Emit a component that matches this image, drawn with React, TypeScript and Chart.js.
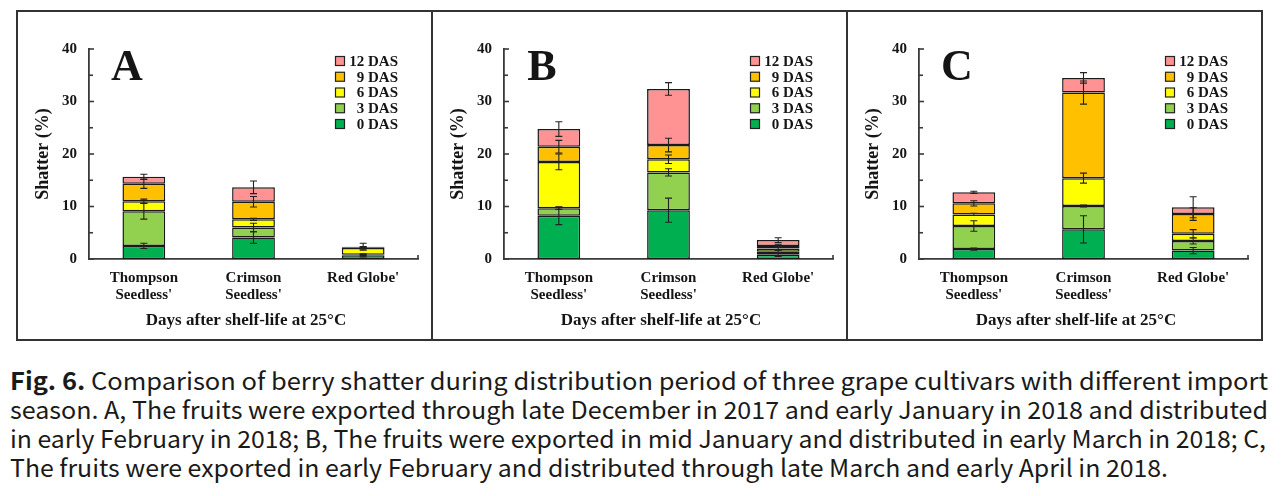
import React, { useEffect, useRef } from "react";
import { Chart, registerables } from "chart.js";

Chart.register(...registerables);

// ---------- data ----------
const cultivars = [["Thompson", "Seedless'"], ["Crimson", "Seedless'"], ["Red Globe'"]];
const seriesNames = ["0 DAS", "3 DAS", "6 DAS", "9 DAS", "12 DAS"];
const seriesColors = ["#00b050", "#92d050", "#ffff00", "#ffc000", "#ff9393"];
const yTickValues = [0, 10, 20, 30, 40];
const yMinorStep = 5;
const yAxisTitle = "Shatter (%)";
const xAxisTitle = "Days after shelf-life at 25\u00B0C";

// Panel A (shatter %, per storage day, per cultivar)
const aDas0 = [2.5, 4.1, 0.7];
const aDas3 = [6.6, 1.9, 0.1];
const aDas6 = [1.9, 1.55, 1.3];
const aDas9 = [3.35, 3.35, 0.15];
const aDas12 = [1.3, 2.75, 0.1];
const aErr0 = [0.5, 1.1, 0.3];
const aErr3 = [1.5, 0.8, 0.1];
const aErr6 = [0.4, 0.2, 0.2];
const aErr9 = [0.9, 1.0, 0.1];
const aErr12 = [0.5, 1.2, 0.65];

// Panel B
const bDas0 = [8.25, 9.3, 0.8];
const bDas3 = [1.4, 7.2, 0.6];
const bDas6 = [8.85, 2.5, 0.6];
const bDas9 = [2.9, 2.7, 0.5];
const bDas12 = [3.35, 10.7, 1.1];
const bErr0 = [1.7, 2.3, 0.3];
const bErr3 = [0.2, 0.7, 0.3];
const bErr6 = [1.5, 0.8, 0.3];
const bErr9 = [1.2, 1.3, 0.3];
const bErr12 = [1.4, 1.2, 0.45];

// Panel C
const cDas0 = [1.9, 5.65, 1.6];
const cDas3 = [4.4, 4.45, 1.85];
const cDas6 = [2.2, 5.3, 1.35];
const cDas9 = [2.1, 16.3, 3.75];
const cDas12 = [2.1, 2.8, 1.3];
const cErr0 = [0.2, 2.6, 0.6];
const cErr3 = [1.0, 0.2, 0.6];
const cErr6 = [0.2, 0.95, 0.8];
const cErr9 = [0.5, 2.2, 1.2];
const cErr12 = [0.2, 1.0, 2.0];

const captionBold = "Fig. 6.";
const captionLine1 = " Comparison of berry shatter during distribution period of three grape cultivars with different import";
const captionLine2 = "season. A, The fruits were exported through late December in 2017 and early January in 2018 and distributed";
const captionLine3 = "in early February in 2018; B, The fruits were exported in mid January and distributed in early March in 2018; C,";
const captionLine4 = "The fruits were exported in early February and distributed through late March and early April in 2018.";
const captionLineWidths = [1258, 1258, 1256, 1158];

// ---------- styling ----------
const SERIF = "'Liberation Serif', 'Times New Roman', serif";
const INK = "#151515";
const AXIS = "#3a3a3a";
const PANEL_W = 415;
const PANEL_H = 330;

function makeDecor(letter: string, errs: number[][]) {
  return {
    id: "decor" + letter,
    afterDatasetsDraw(chart: any) {
      const ctx = chart.ctx;
      const ys = chart.scales.y;
      ctx.save();
      ctx.strokeStyle = "#222";
      ctx.lineWidth = 1.1;
      chart.data.datasets.forEach((ds: any, i: number) => {
        const meta = chart.getDatasetMeta(i);
        meta.data.forEach((bar: any, j: number) => {
          let top = 0;
          for (let k = 0; k <= i; k++) top += chart.data.datasets[k].data[j];
          const e = errs[i][j];
          const x = bar.x;
          const y1 = ys.getPixelForValue(top + e);
          const y2 = ys.getPixelForValue(top - e);
          ctx.beginPath();
          ctx.moveTo(x, y1);
          ctx.lineTo(x, y2);
          ctx.moveTo(x - 3.5, y1);
          ctx.lineTo(x + 3.5, y1);
          ctx.moveTo(x - 3.5, y2);
          ctx.lineTo(x + 3.5, y2);
          ctx.stroke();
        });
      });
      ctx.restore();
    },
    afterDraw(chart: any) {
      const ctx = chart.ctx;
      const ca = chart.chartArea;
      const ys = chart.scales.y;
      ctx.save();
      // inward ticks on the y axis
      ctx.strokeStyle = AXIS;
      ctx.lineWidth = 1.6;
      for (let v = 0; v <= 40; v += yMinorStep) {
        const py = ys.getPixelForValue(v);
        const len = v % 10 === 0 ? 5 : 4;
        ctx.beginPath();
        ctx.moveTo(ca.left, py);
        ctx.lineTo(ca.left + len, py);
        ctx.stroke();
      }
      // small end tick on x axis
      ctx.beginPath();
      ctx.moveTo(ca.right, ca.bottom);
      ctx.lineTo(ca.right, ca.bottom - 4);
      ctx.stroke();

      // panel letter
      ctx.fillStyle = INK;
      ctx.font = `bold 44px ${SERIF}`;
      ctx.textAlign = "center";
      ctx.textBaseline = "alphabetic";
      ctx.fillText(letter, ca.left + 38, ca.top + 31);

      // legend (custom, inside plot, reversed order)
      ctx.font = `bold 15px ${SERIF}`;
      ctx.textAlign = "right";
      ctx.textBaseline = "middle";
      const n = chart.data.datasets.length;
      for (let r = 0; r < n; r++) {
        const ds = chart.data.datasets[n - 1 - r];
        const cy = ca.top + 12 + r * 15.75;
        const bx = ca.right - 82.5;
        ctx.fillStyle = ds.backgroundColor;
        ctx.fillRect(bx, cy - 4.5, 9, 9);
        ctx.strokeStyle = "#222";
        ctx.lineWidth = 1.2;
        ctx.strokeRect(bx, cy - 4.5, 9, 9);
        ctx.fillStyle = INK;
        ctx.fillText(ds.label, ca.right - 20, cy + 1);
      }

      // axis titles
      ctx.font = `bold 17px ${SERIF}`;
      ctx.textAlign = "center";
      ctx.textBaseline = "middle";
      ctx.fillText(xAxisTitle, ca.left + 157, ca.bottom + 62);
      ctx.translate(26, (ca.top + ca.bottom) / 2);
      ctx.rotate(-Math.PI / 2);
      ctx.font = `bold 18px ${SERIF}`;
      ctx.fillText(yAxisTitle, 0, 0);
      ctx.restore();
    },
  };
}

function Panel(props: { letter: string; left: number; values: number[][]; errs: number[][] }) {
  const ref = useRef<HTMLCanvasElement>(null);
  useEffect(() => {
    const chart = new Chart(ref.current as HTMLCanvasElement, {
      type: "bar",
      data: {
        labels: cultivars as any,
        datasets: props.values.map((v, i) => ({
          label: seriesNames[i],
          data: v,
          backgroundColor: seriesColors[i],
          borderColor: "#1a1a1a",
          borderWidth: 1.5,
          borderSkipped: false,
          barPercentage: 0.39,
          categoryPercentage: 1,
          stack: "s",
        })),
      },
      options: {
        animation: false,
        responsive: false,
        maintainAspectRatio: false,
        layout: { padding: { top: 38, right: 14, left: 0, bottom: 0 } },
        plugins: { legend: { display: false }, tooltip: { enabled: false }, title: { display: false } },
        scales: {
          x: {
            stacked: true,
            grid: { display: false, drawTicks: false },
            border: { display: true, color: AXIS, width: 1.8 },
            ticks: {
              color: INK,
              padding: 10,
              maxRotation: 0,
              autoSkip: false,
              font: { family: SERIF, weight: "bold", size: 15, lineHeight: 1.15 },
            },
            afterFit: (s: any) => {
              s.height = PANEL_H - 248;
            },
          },
          y: {
            stacked: true,
            min: yTickValues[0],
            max: yTickValues[yTickValues.length - 1],
            grid: { display: false, drawTicks: false },
            border: { display: true, color: AXIS, width: 1.8 },
            ticks: {
              stepSize: yTickValues[1] - yTickValues[0],
              color: INK,
              padding: 12,
              font: { family: SERIF, weight: "bold", size: 15 },
            },
            afterFit: (s: any) => {
              s.width = 72;
            },
          },
        },
      } as any,
      plugins: [makeDecor(props.letter, props.errs)],
    });
    return () => chart.destroy();
  }, []);
  return (
    <canvas
      ref={ref}
      width={PANEL_W}
      height={PANEL_H}
      style={{ position: "absolute", left: props.left, top: 11, width: PANEL_W, height: PANEL_H, display: "block" }}
    />
  );
}

function CaptionLine(props: { index: number; children: React.ReactNode }) {
  const ref = useRef<HTMLSpanElement>(null);
  useEffect(() => {
    const el = ref.current;
    if (!el) return;
    const fit = () => {
      el.style.transform = "none";
      const w = el.getBoundingClientRect().width;
      if (w > 0) el.style.transform = `scaleX(${captionLineWidths[props.index] / w})`;
    };
    fit();
    if ((document as any).fonts && (document as any).fonts.ready) (document as any).fonts.ready.then(fit);
  }, []);
  return (
    <div style={{ position: "absolute", left: 10, top: 365 + props.index * 29, height: 29, whiteSpace: "nowrap" }}>
      <span
        ref={ref}
        style={{
          display: "inline-block",
          transformOrigin: "0 0",
          fontFamily: "'Noto Sans CJK KR', 'Noto Sans', sans-serif",
          fontSize: 24,
          lineHeight: "29px",
          color: "#1a1a1a",
          whiteSpace: "pre",
        }}
      >
        {props.children}
      </span>
    </div>
  );
}

export default function App() {
  const aValues = [aDas0, aDas3, aDas6, aDas9, aDas12];
  const aErrs = [aErr0, aErr3, aErr6, aErr9, aErr12];
  const bValues = [bDas0, bDas3, bDas6, bDas9, bDas12];
  const bErrs = [bErr0, bErr3, bErr6, bErr9, bErr12];
  const cValues = [cDas0, cDas3, cDas6, cDas9, cDas12];
  const cErrs = [cErr0, cErr3, cErr6, cErr9, cErr12];
  return (
    <div style={{ position: "fixed", left: 0, top: 0, width: 1288, height: 496, background: "#fff", overflow: "hidden" }}>
      <div
        style={{
          position: "absolute",
          left: 16,
          top: 10,
          width: 1247,
          height: 331,
          border: "2px solid #333",
          boxSizing: "border-box",
        }}
      />
      <div style={{ position: "absolute", left: 431, top: 10, width: 2, height: 331, background: "#333" }} />
      <div style={{ position: "absolute", left: 846, top: 10, width: 2, height: 331, background: "#333" }} />
      <Panel letter="A" left={17} values={aValues} errs={aErrs} />
      <Panel letter="B" left={432} values={bValues} errs={bErrs} />
      <Panel letter="C" left={847} values={cValues} errs={cErrs} />
      <CaptionLine index={0}>
        <b>{captionBold}</b>
        {captionLine1}
      </CaptionLine>
      <CaptionLine index={1}>{captionLine2}</CaptionLine>
      <CaptionLine index={2}>{captionLine3}</CaptionLine>
      <CaptionLine index={3}>{captionLine4}</CaptionLine>
    </div>
  );
}
